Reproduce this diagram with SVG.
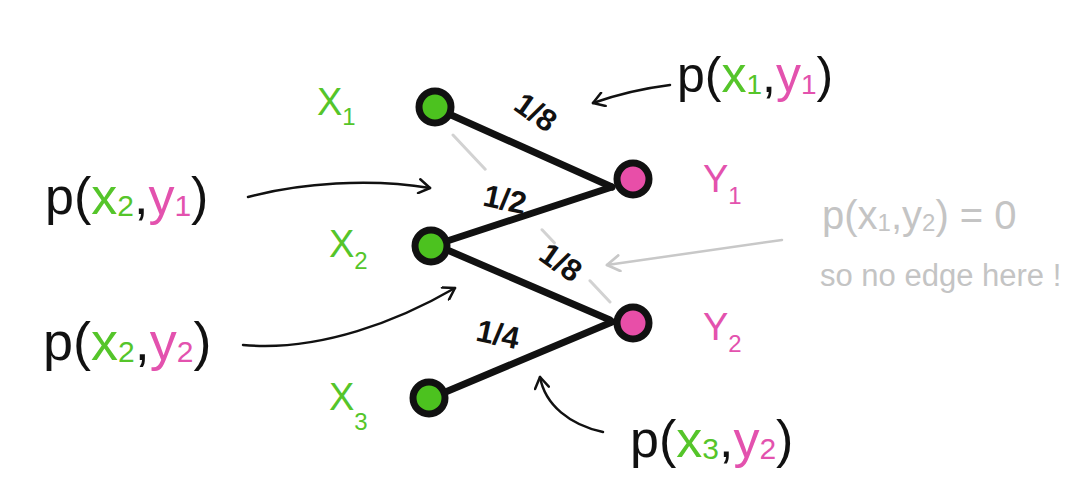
<svg xmlns="http://www.w3.org/2000/svg" width="1080" height="494" viewBox="0 0 1080 494">
<defs>
<style>
.edge{stroke:#111;stroke-width:7;stroke-linecap:round;fill:none}
.ghost{stroke:#d2d2d2;stroke-width:3;stroke-dasharray:47 83 18 52 40 0;fill:none;stroke-linecap:round}
.arr{stroke:#111;stroke-width:2.5;fill:none;stroke-linecap:round;marker-end:url(#ah)}
.arrg{stroke:#c8c8c8;stroke-width:2.5;fill:none;stroke-linecap:round;marker-end:url(#ahg)}
.nx{fill:#4cc21f;stroke:#111;stroke-width:7}
.ny{fill:#e84ea8;stroke:#111;stroke-width:7}
text{font-family:"Liberation Sans","DejaVu Sans",sans-serif}
.g{fill:#55c52a}
.m{fill:#e352ae}
.k{fill:#111}
.gr{fill:#c4c4c4}
.frac{font-size:31px;font-weight:bold;fill:#111}
.lbl{font-size:38px}
</style>
<marker id="ah" viewBox="0 0 16 16" markerWidth="16" markerHeight="16" refX="14" refY="8" orient="auto" markerUnits="userSpaceOnUse"><path d="M3,1 L14,8 L3,15" fill="none" stroke="#111" stroke-width="2.5" stroke-linecap="round" stroke-linejoin="round"/></marker>
<marker id="ahg" viewBox="0 0 16 16" markerWidth="18" markerHeight="18" refX="14" refY="8" orient="auto" markerUnits="userSpaceOnUse"><path d="M3,1 L14,8 L3,15" fill="none" stroke="#c8c8c8" stroke-width="2.5" stroke-linecap="round" stroke-linejoin="round"/></marker>
</defs>
<rect width="1080" height="494" fill="#fff"/>

<g id="connectors">
  <line class="ghost" x1="453" y1="135" x2="610" y2="302"/>
  <line class="edge" x1="440" y1="110" x2="612" y2="187"/>
  <line class="edge" x1="612" y1="187" x2="438" y2="244"/>
  <line class="edge" x1="438" y1="246" x2="610" y2="320"/>
  <line class="edge" x1="436" y1="396" x2="612" y2="322"/>
  <text class="frac" transform="translate(536,112) rotate(35)" text-anchor="middle" dy="11">1/8</text>
  <text class="frac" transform="translate(505,199) rotate(12)" text-anchor="middle" dy="11">1/2</text>
  <text class="frac" transform="translate(561,262) rotate(35)" text-anchor="middle" dy="11">1/8</text>
  <text class="frac" transform="translate(498,334) rotate(12)" text-anchor="middle" dy="11">1/4</text>
</g>

<g id="x1">
  <circle class="nx" cx="435" cy="107" r="16"/>
  <text class="lbl g" x="317" y="115">X<tspan font-size="24" dy="10">1</tspan></text>
</g>
<g id="x2">
  <circle class="nx" cx="431" cy="246" r="16"/>
  <text class="lbl g" x="329" y="257">X<tspan font-size="24" dy="12">2</tspan></text>
</g>
<g id="x3">
  <circle class="nx" cx="429" cy="398" r="16"/>
  <text class="lbl g" x="329" y="410">X<tspan font-size="24" dy="20">3</tspan></text>
</g>
<g id="y1">
  <circle class="ny" cx="633" cy="179" r="16"/>
  <text class="lbl m" x="703" y="192">Y<tspan font-size="24" dy="12">1</tspan></text>
</g>
<g id="y2">
  <circle class="ny" cx="633" cy="323" r="16"/>
  <text class="lbl m" x="703" y="340">Y<tspan font-size="24" dy="12">2</tspan></text>
</g>

<g id="annotations">
  <path class="arr" d="M670,85 Q630,90 593,103"/>
  <path class="arr" d="M248,197 C300,183 370,178 430,188"/>
  <path class="arr" d="M243,345 C320,352 400,320 455,288"/>
  <path class="arr" d="M603,432 C570,425 545,405 540,377"/>
  <path class="arrg" d="M782,240 L607,265"/>

  <text class="k" x="45" y="214" font-size="52">p(<tspan class="g">x</tspan><tspan class="g" font-size="30" dy="2">2</tspan><tspan dy="-2">,</tspan><tspan class="m">y</tspan><tspan class="m" font-size="30" dy="2">1</tspan><tspan dy="-2">)</tspan></text>
  <text class="k" x="43" y="360" font-size="54">p(<tspan class="g">x</tspan><tspan class="g" font-size="30" dy="2">2</tspan><tspan dy="-2">,</tspan><tspan class="m">y</tspan><tspan class="m" font-size="30" dy="2">2</tspan><tspan dy="-2">)</tspan></text>
  <text class="k" x="677" y="92" font-size="50">p(<tspan class="g">x</tspan><tspan class="g" font-size="28" dy="2">1</tspan><tspan dy="-2">,</tspan><tspan class="m">y</tspan><tspan class="m" font-size="28" dy="2">1</tspan><tspan dy="-2">)</tspan></text>
  <text class="k" x="630" y="457" font-size="52">p(<tspan class="g">x</tspan><tspan class="g" font-size="30" dy="2">3</tspan><tspan dy="-2">,</tspan><tspan class="m">y</tspan><tspan class="m" font-size="30" dy="2">2</tspan><tspan dy="-2">)</tspan></text>

  <text class="gr" x="822" y="229" font-size="40">p(x<tspan font-size="24" dy="2">1</tspan><tspan dy="-2">,y</tspan><tspan font-size="24" dy="2">2</tspan><tspan dy="-2">) = 0</tspan></text>
  <text class="gr" x="820" y="286" font-size="31">so no edge here !</text>
</g>
</svg>
